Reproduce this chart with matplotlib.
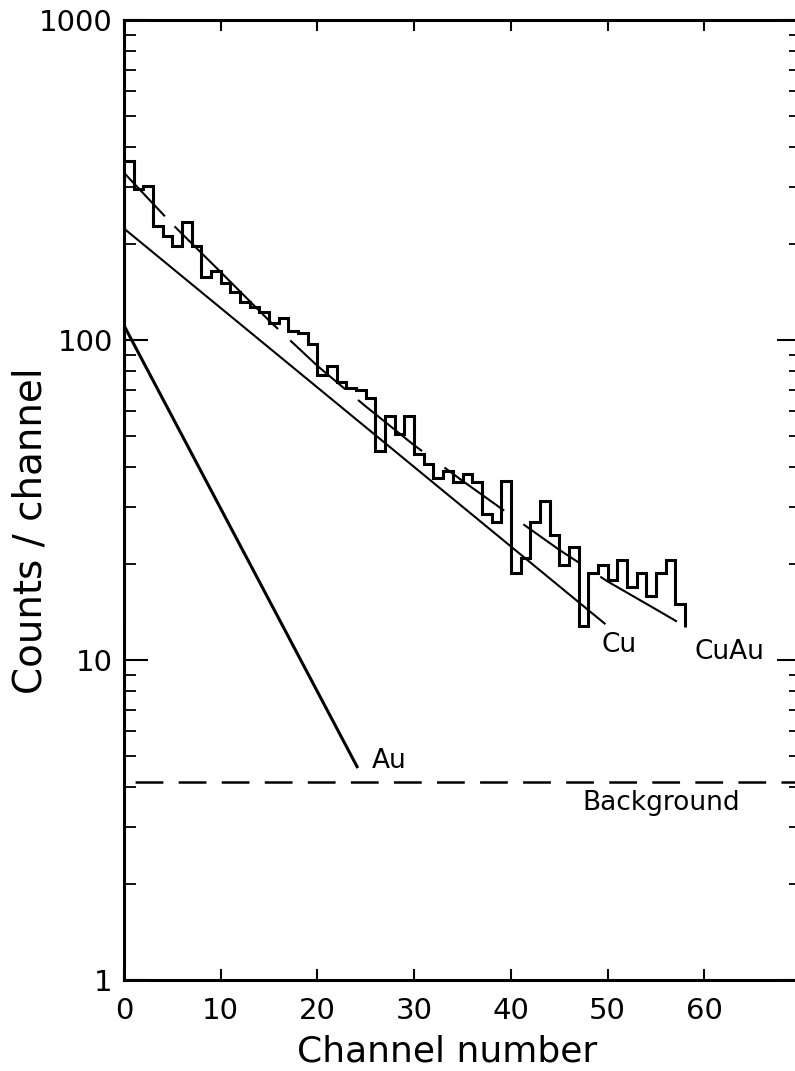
import numpy as np
import matplotlib
matplotlib.use('Agg')
import matplotlib.pyplot as plt
from matplotlib.ticker import LogLocator, NullFormatter

plt.rcParams['font.family'] = ['DejaVu Sans']
plt.rcParams['lines.scale_dashes'] = False

## measured spectrum, one value per channel (channels 0..57)
counts = [362, 296, 303, 227, 211, 197, 233, 197, 157, 164,
          151, 141, 131, 127, 122, 113, 117, 107, 105, 97,
          78, 83, 74, 71, 70, 66, 45, 58, 51, 58,
          44, 41, 37, 39, 36, 38, 36, 28.6, 26.9, 36.3,
          18.7, 20.8, 26.9, 31.4, 24.6, 19.8, 22.5, 12.8, 18.7, 19.8,
          17.8, 20.6, 16.9, 18.7, 15.8, 18.7, 20.6, 15.0]
edges = np.arange(len(counts) + 1)
hist_end = 12.7

## fitted components (straight lines on the log plot)
cu_x = [0, 49.7]
cu_y = [223, 13.0]
au_x = [0, 24.1]
au_y = [111, 4.64]
background = 4.15

## sum curve CuAu
cuau_x = [0, 5, 10, 15, 20, 25, 30, 35, 40, 45, 50, 55, 58.1]
cuau_y = [333, 230, 163, 115, 83, 62, 46.9, 36.3, 28.3, 22.1, 17.6, 14.4, 12.7]

fig = plt.figure(figsize=(7.95, 10.71), dpi=100)
ax = fig.add_axes([124 / 795, 91 / 1071, 677 / 795, 960 / 1071])

ax.stairs(counts, edges, baseline=hist_end, color='black', linewidth=2.2)
ax.plot(cu_x, cu_y, color='black', linewidth=1.5)
ax.plot(au_x, au_y, color='black', linewidth=2.2)
ax.plot(cuau_x, cuau_y, color='black', linewidth=1.5,
        linestyle=(0, (43, 10, 105, 12, 53, 12, 59, 20, 53, 17, 48, 19, 64, 20)))
ax.plot([0, 70], [background, background], color='black', linewidth=1.8,
        linestyle=(23, (20, 11)))

ax.text(49.4, 10.6, 'Cu', fontsize=19, va='baseline')
ax.text(59.0, 10.07, 'CuAu', fontsize=19, va='baseline')
ax.text(25.6, 4.6, 'Au', fontsize=19, va='baseline')
ax.text(47.4, 3.40, 'Background', fontsize=19, va='baseline')

ax.set_yscale('log')
ax.set_ylim(1, 1000)
ax.set_xlim(0, 70)
ax.set_yticks([1, 10, 100, 1000], ['1', '10', '100', '1000'])
ax.yaxis.set_minor_locator(LogLocator(base=10, subs=np.arange(2, 10)))
ax.yaxis.set_minor_formatter(NullFormatter())
ax.set_xticks(np.arange(0, 61, 10))

ax.tick_params(axis='y', which='major', direction='in', length=17, width=1.5,
               left=True, right=True, labelsize=21, pad=8)
ax.tick_params(axis='y', which='minor', direction='in', length=8.5, width=1.3,
               left=True, right=True)
ax.tick_params(axis='x', which='major', direction='in', length=8, width=1.5,
               top=True, bottom=True, labelsize=21, pad=12)

for s in ax.spines.values():
    s.set_linewidth(2.2)

ax.set_xlabel('Channel number', fontsize=26)
ax.xaxis.set_label_coords(0.478, -0.057)
ax.set_ylabel('Counts / channel', fontsize=28)
ax.yaxis.set_label_coords(-0.11, 0.468)

fig.savefig('out.png', dpi=100)
